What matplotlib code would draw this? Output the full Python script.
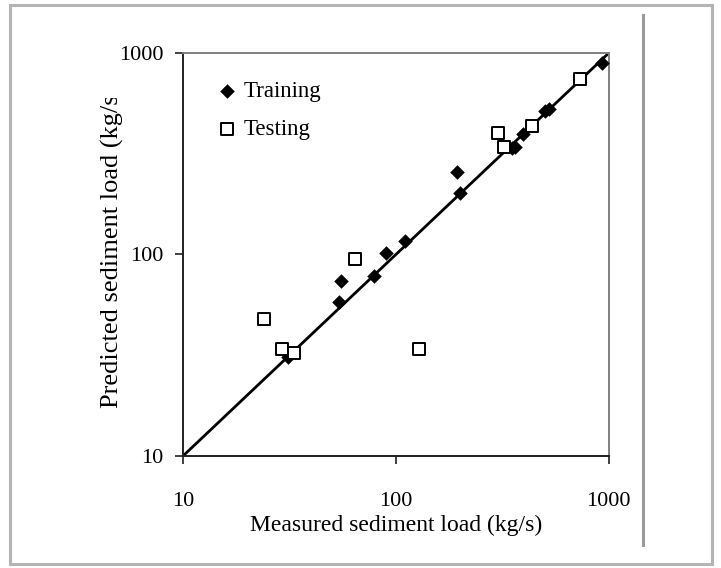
import matplotlib
matplotlib.use("Agg")
import matplotlib.pyplot as plt
from matplotlib.patches import Rectangle
from matplotlib.lines import Line2D
from matplotlib.transforms import Bbox, TransformedBbox

# Measured vs predicted sediment load (kg/s)
train_measured = [31, 54, 55, 79, 90, 110, 193, 200, 352, 365, 396, 505, 523, 936]
train_predicted = [31, 58, 74, 78, 102, 117, 257, 203, 340, 344, 397, 519, 529, 898]

test_measured = [24, 29, 33, 64.5, 129, 303, 323, 437, 736]
test_predicted = [48, 34, 32.5, 95, 34, 402, 344, 437, 745]

line_range = [10, 1000]
tick_values = [10, 100, 1000]
tick_labels = ["10", "100", "1000"]

W, H = 721, 568
fig = plt.figure(figsize=(W / 100, H / 100), dpi=100)
plt.rcParams["font.family"] = ["Liberation Serif", "DejaVu Serif"]

def px(x0, y0, x1, y1):
    # pixel box (from top-left) -> figure fraction rect
    return [x0 / W, 1 - y1 / H, (x1 - x0) / W, (y1 - y0) / H]

# outer frame and divider line
fig.patches.append(Rectangle((10 / W, 1 - 564 / H), 702 / W, 559 / H,
                             transform=fig.transFigure, fill=False,
                             edgecolor="#b4b4b4", linewidth=2.2))
fig.lines.append(Line2D([643 / W, 643 / W], [1 - 15 / H, 1 - 545 / H],
                        transform=fig.transFigure, color="#9a9a9a", linewidth=2.2))

ax = fig.add_axes(px(183.3, 53.3, 608.5, 455.7))
ax.set_xscale("log")
ax.set_yscale("log")
ax.set_xlim(line_range)
ax.set_ylim(line_range)

ax.plot(line_range, line_range, color="black", linewidth=2.0, zorder=2)
ax.scatter(train_measured, train_predicted, marker="D", s=55, color="black",
           linewidths=0, zorder=3, label="Training")
ax.scatter(test_measured, test_predicted, marker="s", s=64, facecolor="white",
           edgecolor="black", linewidths=1.4, zorder=4, label="Testing")

for side in ("top", "right"):
    ax.spines[side].set_color("#808080")
    ax.spines[side].set_linewidth(1.4)
for side in ("left", "bottom"):
    ax.spines[side].set_color("#202020")
    ax.spines[side].set_linewidth(1.4)

ax.set_xticks(tick_values)
ax.set_xticklabels(tick_labels)
ax.set_yticks(tick_values)
ax.set_yticklabels(tick_labels)
ax.minorticks_off()
ax.tick_params(axis="x", direction="out", length=6, width=1.2, pad=20,
               labelsize=16, color="#202020")
ax.tick_params(axis="y", direction="out", length=6, width=1.2, pad=8,
               labelsize=16, color="#202020")

ax.set_xlabel("Measured sediment load (kg/s)", fontsize=17, labelpad=3)

# y label runs past the top of its box and is cut off there
ylab = fig.text(112 / W, 1 - 408 / H, "Predicted sediment load (kg/s)",
                rotation=90, ha="center", va="bottom", fontsize=19)
ylab.set_clip_box(TransformedBbox(Bbox.from_extents(0, 0, 1, 1 - 98 / H),
                                  fig.transFigure))
ylab.set_clip_on(True)

leg = ax.legend(loc="upper left", bbox_to_anchor=(0.066, 0.955), frameon=False,
                fontsize=16.5, handlelength=0.6, handletextpad=0.4,
                labelspacing=0.75, borderaxespad=0)

fig.savefig("out.png", dpi=100)
